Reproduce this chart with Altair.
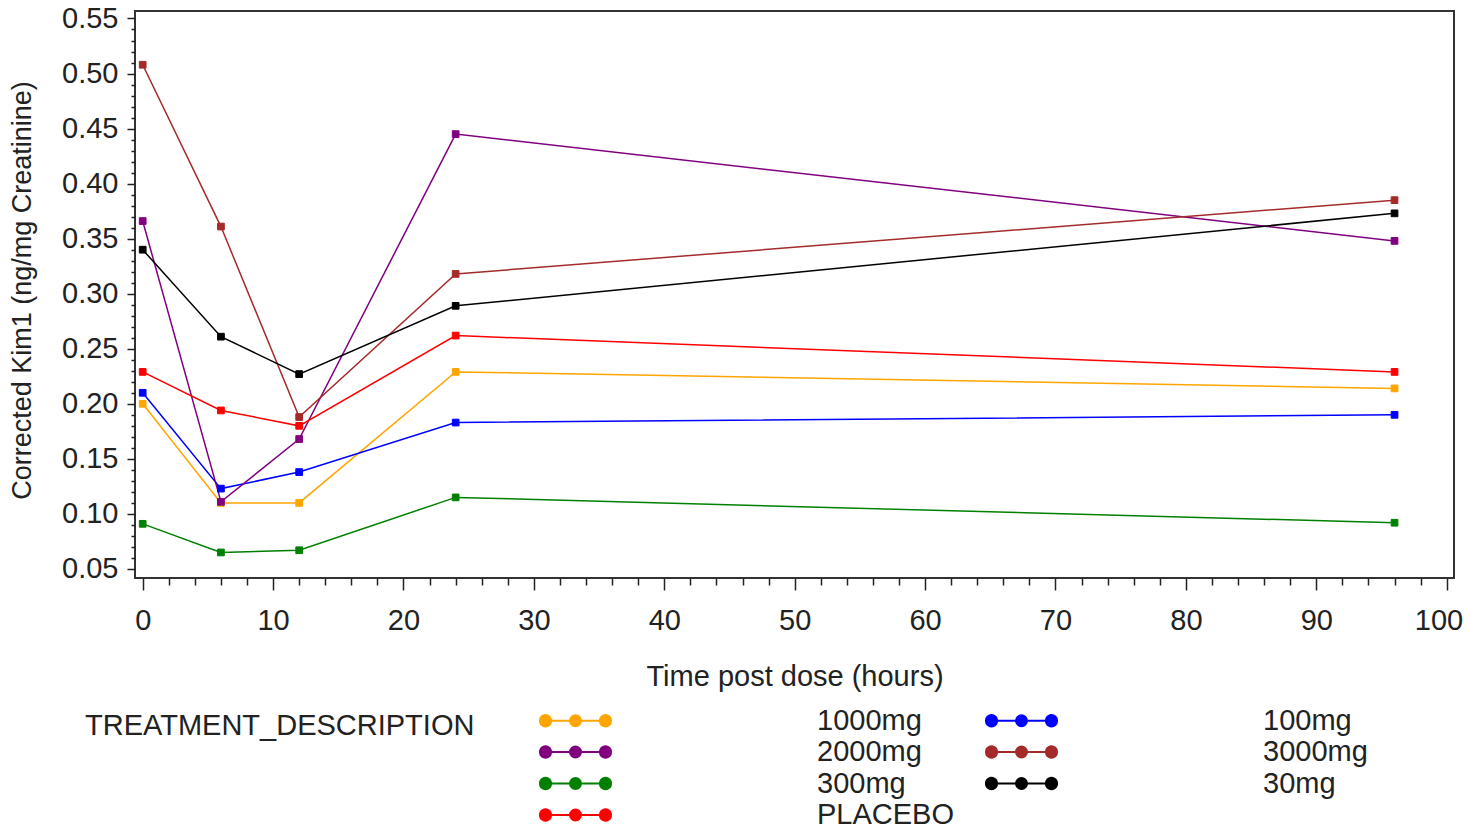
import altair as alt
import pandas as pd

# ---- data ----
times = [0, 6, 12, 24, 96]
treatments = ["1000mg", "100mg", "2000mg", "3000mg", "300mg", "30mg", "PLACEBO"]
colors = ["#FFA500", "#0000FF", "#800080", "#A52A2A", "#008000", "#000000", "#FF0000"]

kim_1000mg = [0.200, 0.110, 0.110, 0.229, 0.214]
kim_100mg = [0.210, 0.123, 0.138, 0.183, 0.190]
kim_2000mg = [0.366, 0.111, 0.168, 0.445, 0.348]
kim_3000mg = [0.508, 0.361, 0.188, 0.318, 0.385]
kim_300mg = [0.091, 0.065, 0.067, 0.115, 0.092]
kim_30mg = [0.340, 0.261, 0.227, 0.289, 0.373]
kim_placebo = [0.229, 0.194, 0.180, 0.262, 0.229]

series = [kim_1000mg, kim_100mg, kim_2000mg, kim_3000mg, kim_300mg, kim_30mg, kim_placebo]

x_major = list(range(0, 101, 10))
x_minor = [v for v in range(0, 101, 2) if v % 10]
y_major = [round(0.05 * i, 2) for i in range(1, 12)]
y_minor = [round(0.01 * i, 2) for i in range(5, 56) if i % 5]

rows = []
for name, vals in zip(treatments, series):
    for t, v in zip(times, vals):
        rows.append({"time": t, "kim": v, "treatment": name})
df = pd.DataFrame(rows)

FONT = "Liberation Sans"
TXT = "#222222"

# custom legend symbol: a line with three dots
half = 7.0
cxs = [-30 / half, 0.0, 30 / half]
r = 5.5 / half
path = f"M{cxs[0]:.3f},0L{cxs[2]:.3f},0"
for cx in cxs:
    path += (f"M{cx + r:.3f},0A{r:.3f},{r:.3f},0,1,1,{cx - r:.3f},0"
             f"A{r:.3f},{r:.3f},0,1,1,{cx + r:.3f},0Z")

legend = alt.Legend(
    title="TREATMENT_DESCRIPTION",
    orient="none",
    legendX=-50,
    legendY=695,
    columns=2,
    direction="horizontal",
    titleOrient="left",
    titleAnchor="start",
    titleBaseline="line-top",
    titleLineHeight=42,
    titlePadding=86,
    labelOffset=227,
    columnPadding=27,
    rowPadding=1.5,
    symbolType=path,
    symbolSize=196,
    symbolStrokeWidth=2,
    symbolOpacity=1,
    labelFont=FONT,
    labelFontSize=29,
    labelColor=TXT,
    titleFont=FONT,
    titleFontSize=29,
    titleFontWeight="normal",
    titleColor=TXT,
    labelLimit=400,
    titleLimit=600,
)

color_scale = alt.Scale(domain=treatments, range=colors)
x_scale = alt.Scale(domain=[-0.59, 100.56], nice=False, zero=False)
y_scale = alt.Scale(domain=[0.0418, 0.5568], nice=False, zero=False)

x_axis_major = alt.Axis(
    values=x_major, format="d", title="Time post dose (hours)",
    tickSize=12, tickWidth=1.5, tickColor=TXT, labelPadding=16,
    domain=False, grid=False, labelFont=FONT, labelFontSize=29, labelColor=TXT,
    titleFont=FONT, titleFontSize=29, titleFontWeight="normal", titleColor=TXT,
    titleY=84, titleBaseline="top", orient="bottom",
    labelFlush=7.5, labelFlushOffset=16,
)
y_axis_major = alt.Axis(
    values=y_major, format=".2f", title="Corrected Kim1 (ng/mg Creatinine)",
    tickSize=8, tickWidth=1.5, tickColor=TXT, labelPadding=9,
    domain=False, grid=False, labelFont=FONT, labelFontSize=29, labelColor=TXT,
    titleFont=FONT, titleFontSize=27, titleFontWeight="normal", titleColor=TXT,
    titleX=-105, titleY=279, titleAngle=270, titleBaseline="alphabetic",
    titleAlign="center", orient="left", labelFlush=False,
)
x_axis_minor = alt.Axis(
    values=x_minor, labels=False, title=None, tickSize=7, tickWidth=1.5,
    tickColor=TXT, domain=False, grid=False, orient="bottom",
)
y_axis_minor = alt.Axis(
    values=y_minor, labels=False, title=None, tickSize=4, tickWidth=1.5,
    tickColor=TXT, domain=False, grid=False, orient="left",
)

lines = alt.Chart(df).mark_line(strokeWidth=1.5).encode(
    x=alt.X("time:Q", scale=x_scale, axis=x_axis_major),
    y=alt.Y("kim:Q", scale=y_scale, axis=y_axis_major),
    stroke=alt.Stroke("treatment:N", scale=color_scale, legend=legend),
    order=alt.Order("time:Q"),
)

points = alt.Chart(df).mark_point(shape="square", size=45, filled=True, opacity=1, strokeWidth=1).encode(
    x=alt.X("time:Q", scale=x_scale, axis=x_axis_minor),
    y=alt.Y("kim:Q", scale=y_scale, axis=y_axis_minor),
    fill=alt.Fill("treatment:N", scale=color_scale, legend=legend),
    stroke=alt.Stroke("treatment:N", scale=color_scale, legend=legend),
)

chart = (
    alt.layer(lines, points)
    .resolve_axis(x="independent", y="independent")
    .properties(
        width=1319,
        height=567,
        autosize=alt.AutoSizeParams(type="none"),
        padding={"left": 127, "top": 3, "right": 10, "bottom": 250},
    )
    .configure(font=FONT)
    .configure_view(stroke="#333333", strokeWidth=2)
)

chart.save("out.html", embed_options={"renderer": "svg", "actions": False})
